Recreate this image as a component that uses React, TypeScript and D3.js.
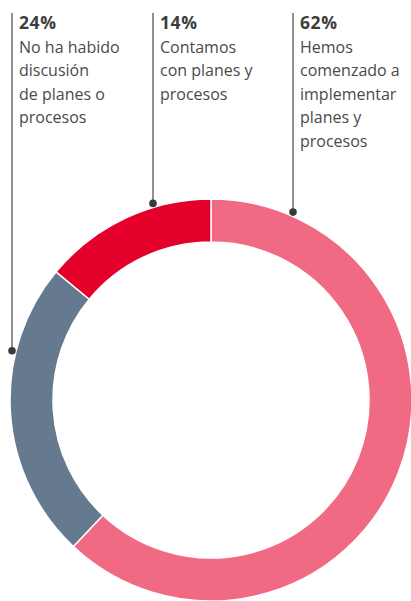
import React from "react";
import * as d3 from "d3";

const categories = ["Hemos comenzado a implementar planes y procesos", "No ha habido discusión de planes o procesos", "Contamos con planes y procesos"];
const values = [62, 24, 14];
const colors = ["#EF6A82", "#667A8F", "#E4002B"];
const labelLines = [
  ["Hemos", "comenzado a", "implementar", "planes y", "procesos"],
  ["No ha habido", "discusión", "de planes o", "procesos"],
  ["Contamos", "con planes y", "procesos"],
];
const labelX = [293, 12, 153];

const W = 411;
const H = 601;
const cx = 211;
const cy = 400;
const outerR = 201;
const innerR = 158;
const dotR = outerR + 4;

export default function App() {
  const pie = d3.pie<number>().sort(null).value((d) => d);
  const arcs = pie(values);
  const arc = d3.arc<d3.PieArcDatum<number>>().innerRadius(innerR).outerRadius(outerR);
  const font = "'Open Sans', 'Noto Sans', sans-serif";
  return (
    <svg width={W} height={H} style={{ position: "absolute", left: 0, top: 0 }} fontFamily={font}>
      <g transform={`translate(${cx},${cy})`}>
        {arcs.map((a, i) => (
          <path key={i} d={arc(a) || ""} fill={colors[i]} stroke="#fff" strokeWidth={1.5} />
        ))}
      </g>
      {values.map((v, i) => {
        const x = labelX[i];
        const dx = x - cx;
        const dotY = cy - Math.sqrt(dotR * dotR - dx * dx);
        return (
          <g key={i}>
            <line x1={x} x2={x} y1={13} y2={dotY} stroke="#555" strokeWidth={1.3} />
            <circle cx={x} cy={dotY} r={3.8} fill="#3a3a3a" />
            <text x={x + 7} y={29} fontSize={17.5} fontWeight={700} fill="#3d3d3d" letterSpacing={0.6}>
              {v}%
            </text>
            {labelLines[i].map((t, j) => (
              <text key={j} x={x + 7} y={52.5 + j * 23.5} fontSize={16} fill="#4a4a4a">
                {t}
              </text>
            ))}
          </g>
        );
      })}
    </svg>
  );
}
